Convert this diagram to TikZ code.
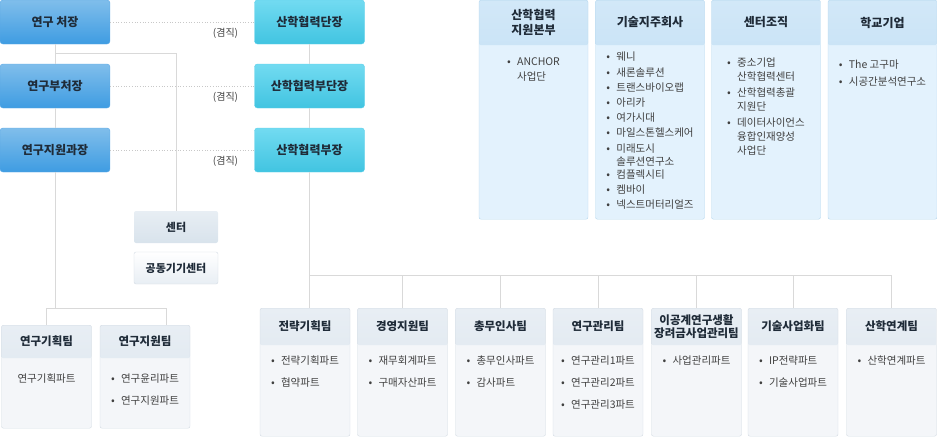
\documentclass[tikz,border=0pt]{standalone}
\usepackage{fontspec}
\setmainfont{Noto Sans CJK KR}
\usetikzlibrary{positioning}

\definecolor{blueA}{HTML}{80BEEB}
\definecolor{blueB}{HTML}{3E9CE2}
\definecolor{blueL}{HTML}{5AA8E6}
\definecolor{cyanA}{HTML}{72DBF1}
\definecolor{cyanB}{HTML}{41C4E1}
\definecolor{cyanL}{HTML}{5CD0EA}
\definecolor{orgA}{HTML}{D2E8F8}
\definecolor{orgB}{HTML}{AFD5F0}
\definecolor{orgBody}{HTML}{E3F2FD}
\definecolor{orgLine}{HTML}{B5D7EE}
\definecolor{teamA}{HTML}{E8EEF4}
\definecolor{teamB}{HTML}{D8E3EC}
\definecolor{teamBody}{HTML}{F4F6F9}
\definecolor{teamLine}{HTML}{D3DBE3}
\definecolor{linkGray}{HTML}{D9D9D9}
\definecolor{dotGray}{HTML}{C8C8C8}
\definecolor{txtDark}{HTML}{1F2B38}
\definecolor{txtGray}{HTML}{404040}

\newcommand{\itm}[1]{\makebox[10pt][l]{\fontsize{11}{11}\selectfont•}#1}
\newcommand{\cont}[1]{\hspace*{10pt}#1}

\begin{document}
\begin{tikzpicture}[x=1pt,y=-1pt,
  conn/.style={draw=linkGray, line width=0.9pt},
  dotline/.style={draw=dotGray, dotted, line width=0.7pt},
  bluebox/.style={rounded corners=3pt, draw=blueL, top color=blueA, bottom color=blueB,
    minimum width=110pt, minimum height=44pt, inner sep=0,
    font=\fontsize{12}{14}\selectfont\bfseries, text=txtDark},
  cyanbox/.style={bluebox, draw=cyanL, top color=cyanA, bottom color=cyanB},
  note/.style={font=\fontsize{10}{11}\selectfont, text=txtGray, inner sep=0},
  orgbox/.style={draw=orgLine, fill=orgBody, rounded corners=2pt, inner sep=0,
    minimum width=109pt, minimum height=219pt, anchor=north,
    path picture={\shade[top color=orgA, bottom color=orgB]
      (path picture bounding box.north west) rectangle
      ([yshift=-45pt]path picture bounding box.north east);}},
  orgtitle/.style={font=\fontsize{12}{15}\selectfont\bfseries, text=txtDark, align=center},
  orglist/.style={font=\fontsize{10.5}{14}\selectfont, text=txtGray, align=left, inner sep=0},
  teambox/.style 2 args={draw=teamLine, fill=teamBody, rounded corners=2pt, inner sep=0,
    minimum width=90pt, minimum height=#1, anchor=north,
    path picture={\shade[top color=teamA, bottom color=teamB]
      (path picture bounding box.north west) rectangle
      ([yshift=-#2]path picture bounding box.north east);}},
  teamtitle/.style={font=\fontsize{11.5}{13.5}\selectfont\bfseries, text=txtDark, align=center},
  teamlist/.style={font=\fontsize{10.5}{22}\selectfont, text=txtGray, align=left, inner sep=0},
  unitbox/.style={rounded corners=2pt, minimum width=84pt, minimum height=32pt, inner sep=0,
    font=\fontsize{11}{13}\selectfont\bfseries, text=txtDark}
]
\useasboundingbox (0,0) rectangle (937,437);

% research office
\node[bluebox] (chief) at (55,22) {연구 처장};
\node[bluebox] (vchief) at (55,86) {연구부처장};
\node[bluebox] (mgr) at (55,150) {연구지원과장};

% industry-academic cooperation
\node[cyanbox] (dean) at (309.5,22) {산학협력단장};
\node[cyanbox] (vdean) at (309.5,86) {산학협력부단장};
\node[cyanbox] (ddir) at (309.5,150) {산학협력부장};

\draw[dotline] (chief) -- (dean);
\draw[dotline] (vchief) -- (vdean);
\draw[dotline] (mgr) -- (ddir);
\node[note, below left=6pt and 16pt of dean.west] (n1) {(겸직)};
\node[note, below left=6pt and 16pt of vdean.west] (n2) {(겸직)};
\node[note, below left=6pt and 16pt of ddir.west] (n3) {(겸직)};

% centers
\node[unitbox, top color=teamA, bottom color=teamB] (center) at (176,227) {센터};
\node[unitbox, draw=teamLine, top color=white, bottom color=teamA] (equip) at (176,268) {공동기기센터};

% left teams
\node[teambox={103pt}{33pt}] (lt1) at (46.5,325) {};
\node[teamtitle] (lttl1) at ([yshift=-16.5pt]lt1.north) {연구기획팀};
\node[teamlist, below=49pt of lt1.north] (llst1) {연구기획파트};
\node[teambox={103pt}{33pt}] (lt2) at (145,325) {};
\node[teamtitle] (lttl2) at ([yshift=-16.5pt]lt2.north) {연구지원팀};
\node[teamlist, below=49pt of lt2.north] (llst2) {\itm{연구윤리파트}\\\itm{연구지원파트}};

% top right organisations
\node[orgbox] (o1) at (533.5,0) {};
\node[orgtitle] (ottl1) at ([yshift=-22.5pt]o1.north) {산학협력\\지원본부};
\node[orglist, below=57pt of o1.north] (olst1) {\itm{ANCHOR}\\[1pt]\cont{사업단}};

\node[orgbox] (o2) at (650,0) {};
\node[orgtitle] (ottl2) at ([yshift=-22.5pt]o2.north) {기술지주회사};
\node[orglist, font=\fontsize{10.5}{13}\selectfont, below=52pt of o2.north] (olst2)
  {\itm{웨니}\\[2.2pt]\itm{새론솔루션}\\[2.2pt]\itm{트랜스바이오랩}\\[2.2pt]\itm{아리카}\\[2.2pt]%
   \itm{여가시대}\\[2.2pt]\itm{마일스톤헬스케어}\\[2.2pt]\itm{미래도시}\\\cont{솔루션연구소}\\[0pt]%
   \itm{컴플렉시티}\\[2.2pt]\itm{켐바이}\\[2.2pt]\itm{넥스트머터리얼즈}};

\node[orgbox] (o3) at (766,0) {};
\node[orgtitle] (ottl3) at ([yshift=-22.5pt]o3.north) {센터조직};
\node[orglist, below=58pt of o3.north] (olst3)
  {\itm{중소기업}\\\cont{산학협력센터}\\[2pt]\itm{산학협력총괄}\\\cont{지원단}\\[2pt]%
   \itm{데이터사이언스}\\\cont{융합인재양성}\\\cont{사업단}};

\node[orgbox] (o4) at (882.5,0) {};
\node[orgtitle] (ottl4) at ([yshift=-22.5pt]o4.north) {학교기업};
\node[orglist, below=60pt of o4.north] (olst4) {\itm{The 고구마}\\[3pt]\itm{시공간분석연구소}};

% bottom right teams
\foreach \i/\x/\ttl/\lst in {
  1/305/{전략기획팀}/{\itm{전략기획파트}\\\itm{협약파트}},
  2/402.5/{경영지원팀}/{\itm{재무회계파트}\\\itm{구매자산파트}},
  3/500.5/{총무인사팀}/{\itm{총무인사파트}\\\itm{감사파트}},
  4/598/{연구관리팀}/{\itm{연구관리1파트}\\\itm{연구관리2파트}\\\itm{연구관리3파트}},
  5/696.5/{이공계연구생활\\장려금사업관리팀}/{\itm{사업관리파트}},
  6/793/{기술사업화팀}/{\itm{IP전략파트}\\\itm{기술사업파트}},
  7/891.5/{산학연계팀}/{\itm{산학연계파트}}}{
  \node[teambox={128pt}{37pt}] (t\i) at (\x,308) {};
  \node[teamtitle] (ttl\i) at ([yshift=-18.5pt]t\i.north) {\ttl};
  \node[teamlist, below=48pt of t\i.north] (lst\i) {\lst};
}

% connectors
\coordinate (lbus) at (0,308);
\coordinate (rbus) at (0,275);
\draw[conn] (chief) -- (vchief);
\draw[conn] (vchief) -- (mgr);
\draw[conn] (chief.south) -- ++(0,9) -| (center.north);
\draw[conn] (mgr.south) -- (mgr.south |- lbus);
\draw[conn] (lt1.north |- lbus) -- ([xshift=21pt]lt2.north |- lbus);
\draw[conn] (lt1.north |- lbus) -- (lt1.north);
\draw[conn] ([xshift=21pt]lt2.north |- lbus) -- ([xshift=21pt]lt2.north);

\draw[conn] (dean) -- (vdean);
\draw[conn] (vdean) -- (ddir);
\draw[conn] (ddir.south) -- (ddir.south |- t1.north);
\draw[conn] (ddir.south |- rbus) -- (t7.north |- rbus);
\foreach \i in {2,...,7}
  \draw[conn] (t\i.north |- rbus) -- (t\i.north);
\end{tikzpicture}
\end{document}
